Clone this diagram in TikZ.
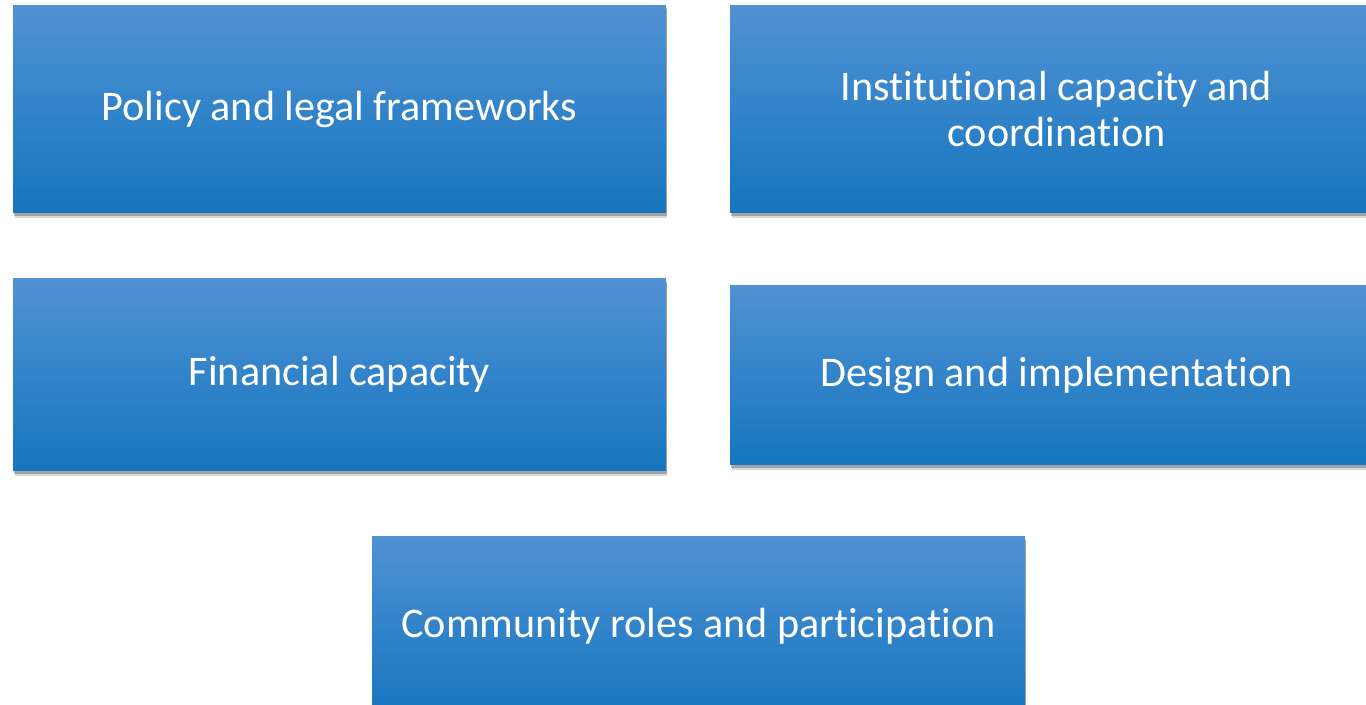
\documentclass[tikz,border=0pt]{standalone}
\usepackage{fontspec}
\setmainfont{Carlito}[Ligatures=NoCommon, RawFeature={-calt;-rlig;-dlig}]
\usetikzlibrary{shadows}
\tikzset{
    areabox/.style={rectangle, inner sep=0pt, text=white, align=center,
        font=\fontsize{24}{26.5}\selectfont,
        top color={rgb,255:red,80;green,146;blue,212},
        middle color={rgb,255:red,33;green,132;blue,209},
        bottom color={rgb,255:red,21;green,117;blue,190},
        general shadow={shadow xshift=0.03cm, shadow yshift=-0.1cm, opacity=0.15, fill=black},
        general shadow={shadow xshift=0.02cm, shadow yshift=-0.06cm, opacity=0.25, fill=black}}
}
\begin{document}
\begin{tikzpicture}[x=0.02cm,y=-0.02cm]
    \useasboundingbox (0,0) rectangle (1366,705);
    \clip (0,0) rectangle (1366,705);
    % Top row %
    \node[areabox, minimum width=13.06cm, minimum height=4.16cm] (policy) at (339.5,109) {Policy and legal frameworks};
    \node[areabox, minimum width=13.06cm, minimum height=4.16cm] (institutional) at (1056.5,109) {Institutional capacity and\\coordination};
    % Middle row %
    \node[areabox, minimum width=13.06cm, minimum height=3.86cm] (financial) at (339.5,374.5) {Financial capacity};
    \node[areabox, minimum width=13.06cm, minimum height=3.6cm] (design) at (1056.5,375) {Design and implementation};
    % Bottom %
    \node[areabox, minimum width=13.06cm, minimum height=3.6cm] (community) at (698.5,626) {Community roles and participation};
\end{tikzpicture}
\end{document}
